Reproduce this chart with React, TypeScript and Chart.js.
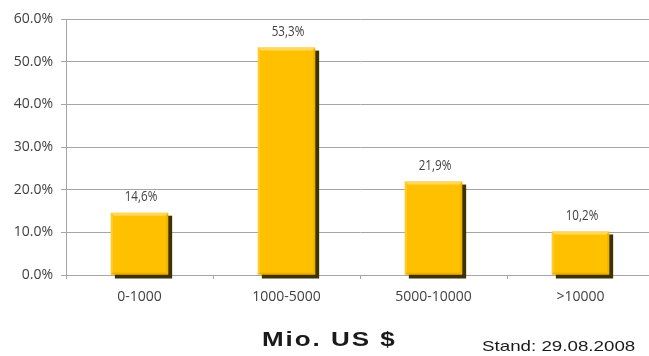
import React, { useEffect, useRef } from "react";
import { Chart, registerables } from "chart.js";

Chart.register(...registerables);

const categories = ["0-1000", "1000-5000", "5000-10000", ">10000"];
const shares = [14.6, 53.3, 21.9, 10.2];
const valueLabels = ["14,6%", "53,3%", "21,9%", "10,2%"];
const yTickValues = [0, 10, 20, 30, 40, 50, 60];

const barDecor = {
  id: "barDecor",
  beforeDatasetsDraw(chart: any) {
    const ctx = chart.ctx;
    const meta = chart.getDatasetMeta(0);
    ctx.save();
    ctx.fillStyle = "#3d3300";
    meta.data.forEach((bar: any) => {
      const w = bar.width;
      const left = bar.x - w / 2;
      ctx.fillRect(left + 4, bar.y + 3, w, bar.base - bar.y + 1);
    });
    ctx.restore();
  },
  afterDatasetsDraw(chart: any) {
    const ctx = chart.ctx;
    const meta = chart.getDatasetMeta(0);
    ctx.save();
    meta.data.forEach((bar: any, i: number) => {
      const w = bar.width;
      const l = bar.x - w / 2;
      const r = bar.x + w / 2;
      const t = bar.y;
      const b = bar.base;
      const bv = 3;
      // top bevel
      ctx.fillStyle = "#FFD95E";
      ctx.beginPath();
      ctx.moveTo(l, t);
      ctx.lineTo(r, t);
      ctx.lineTo(r - bv, t + bv);
      ctx.lineTo(l + bv, t + bv);
      ctx.closePath();
      ctx.fill();
      // left bevel
      ctx.fillStyle = "#FFCB30";
      ctx.beginPath();
      ctx.moveTo(l, t);
      ctx.lineTo(l + 2, t + bv);
      ctx.lineTo(l + 2, b - 2);
      ctx.lineTo(l, b);
      ctx.closePath();
      ctx.fill();
      // right bevel
      ctx.fillStyle = "#F0B400";
      ctx.beginPath();
      ctx.moveTo(r, t);
      ctx.lineTo(r, b);
      ctx.lineTo(r - 2, b - 2);
      ctx.lineTo(r - 2, t + bv);
      ctx.closePath();
      ctx.fill();
      // bottom bevel
      ctx.fillStyle = "#EDB000";
      ctx.beginPath();
      ctx.moveTo(l, b);
      ctx.lineTo(r, b);
      ctx.lineTo(r - 2, b - 2);
      ctx.lineTo(l + 2, b - 2);
      ctx.closePath();
      ctx.fill();
      // value label
      ctx.save();
      ctx.fillStyle = "#404040";
      ctx.font = "14px 'Open Sans'";
      ctx.textAlign = "center";
      ctx.textBaseline = "middle";
      ctx.translate(bar.x + 1.5, t - 15.5);
      ctx.scale(0.83, 1);
      ctx.fillText(valueLabels[i], 0, 0);
      ctx.restore();
    });
    ctx.restore();
  },
};

export default function App() {
  const ref = useRef<HTMLCanvasElement>(null);
  useEffect(() => {
    if (!ref.current) return;
    const chart = new Chart(ref.current, {
      type: "bar",
      data: {
        labels: categories,
        datasets: [
          {
            data: shares,
            backgroundColor: "#FFC000",
            borderWidth: 0,
            barPercentage: 0.39,
            categoryPercentage: 1,
          },
        ],
      },
      options: {
        animation: false,
        responsive: false,
        devicePixelRatio: 1,
        layout: { padding: { top: 19, right: 6, bottom: 0, left: 0 } },
        plugins: { legend: { display: false }, tooltip: { enabled: false } },
        scales: {
          x: {
            grid: {
              display: true,
              drawOnChartArea: false,
              offset: true,
              tickLength: 4,
              color: "#a6a6a6",
            },
            border: { display: false },
            ticks: {
              color: "#404040",
              font: { family: "'Open Sans'", size: 14 },
              padding: 10,
              maxRotation: 0,
            },
            afterFit: (s: any) => {
              s.height = 81;
            },
          },
          y: {
            min: 0,
            max: 60,
            afterBuildTicks: (s: any) => {
              s.ticks = yTickValues.map((v) => ({ value: v }));
            },
            grid: { color: "#a6a6a6", tickLength: 5 },
            border: { display: true, color: "#a6a6a6" },
            ticks: {
              color: "#404040",
              font: { family: "'Open Sans'", size: 14 },
              padding: 8,
              callback: (v: any) => Number(v).toFixed(1) + "%",
            },
            afterFit: (s: any) => {
              s.width = 66;
            },
          },
        },
      },
      plugins: [barDecor],
    });
    return () => chart.destroy();
  }, []);
  return (
    <div
      style={{
        position: "absolute",
        left: 0,
        top: 0,
        width: 649,
        height: 356,
        overflow: "hidden",
        background: "#fff",
      }}
    >
      <canvas ref={ref} width={660} height={356} style={{ width: 660, height: 356 }} />
      <div
        style={{
          position: "absolute",
          left: 262,
          top: 328,
          fontFamily: "'Liberation Sans', Arial, sans-serif",
          fontWeight: "bold",
          fontSize: 20,
          letterSpacing: 1.5,
          color: "#1a1a1a",
          transform: "scaleX(1.3)",
          transformOrigin: "left top",
          whiteSpace: "pre",
          lineHeight: "23px",
        }}
      >
        Mio. US $
      </div>
      <div
        style={{
          position: "absolute",
          left: 482,
          top: 337,
          fontFamily: "'Liberation Sans', Arial, sans-serif",
          fontSize: 15,
          color: "#1a1a1a",
          transform: "scaleX(1.25)",
          transformOrigin: "left top",
          whiteSpace: "pre",
          lineHeight: "17px",
        }}
      >
        Stand: 29.08.2008
      </div>
    </div>
  );
}
